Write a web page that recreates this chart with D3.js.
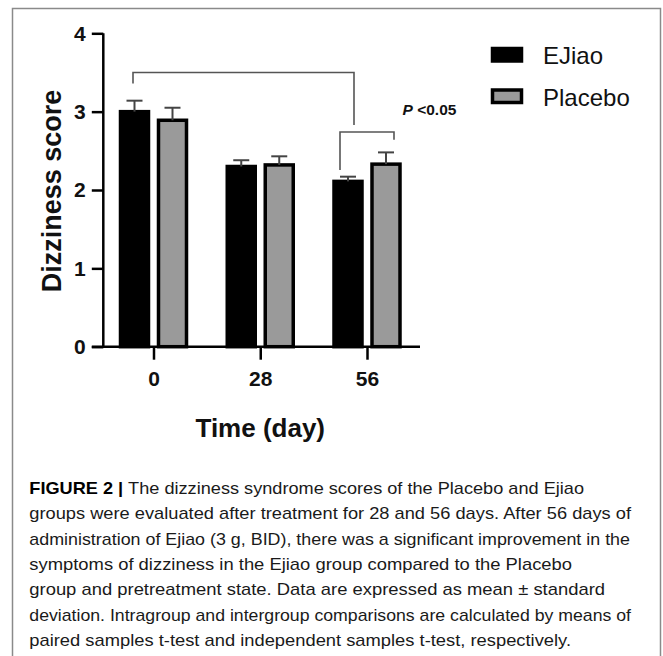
<!DOCTYPE html>
<html>
<head>
<meta charset="utf-8">
<script src="https://cdn.jsdelivr.net/npm/d3@7"></script>
<style>
  html, body { margin: 0; padding: 0; background: #fff; }
  svg { display: block; font-family: Arial, "Liberation Sans", sans-serif; }
</style>
</head>
<body>
<div class="chart"></div>
<script>
// data
const days = ["0", "28", "56"];
const series = ["EJiao", "Placebo"];
const ejiaoMean = [3.00, 2.30, 2.11];
const ejiaoSd = [0.14, 0.08, 0.06];
const placeboMean = [2.89, 2.32, 2.33];
const placeboSd = [0.16, 0.11, 0.15];
const yTicks = [0, 1, 2, 3, 4];
const captionLines = [
  "The dizziness syndrome scores of the Placebo and Ejiao",
  "groups were evaluated after treatment for 28 and 56 days. After 56 days of",
  "administration of Ejiao (3 g, BID), there was a significant improvement in the",
  "symptoms of dizziness in the Ejiao group compared to the Placebo",
  "group and pretreatment state. Data are expressed as mean \u00b1 standard",
  "deviation. Intragroup and intergroup comparisons are calculated by means of",
  "paired samples t-test and independent samples t-test, respectively."
];
const captionEnds = [584, 631, 630, 572, 605, 631, 571]; // right edge of each caption line

const width = 663;
const height = 656;

const colors = { EJiao: "#000", Placebo: "#9a9a9a" };

const svg = d3.select("div.chart")
    .append("svg")
    .attr("width", width)
    .attr("height", height)
    .attr("viewBox", [0, 0, width, height]);

// figure frame
svg.append("rect")
    .attr("x", 12.5).attr("y", 8.5)
    .attr("width", 648).attr("height", 700)
    .attr("fill", "none")
    .attr("stroke", "#8a8a8a")
    .attr("stroke-width", 1.5);

const xScale = d3.scalePoint()
    .domain(days)
    .range([153.5, 367]);

const xInner = d3.scaleBand()
    .domain(series)
    .range([-33, 33])
    .paddingInner(0.263);

const yScale = d3.scaleLinear()
    .domain([0, 4])
    .range([346.7, 33.3]);

const axisX0 = 103.3;

const rows = days.map((d, i) => ({
  day: d,
  values: [
    { key: "EJiao", mean: ejiaoMean[i], sd: ejiaoSd[i] },
    { key: "Placebo", mean: placeboMean[i], sd: placeboSd[i] }
  ]
}));

// bars
const groups = svg.append("g").attr("class", "bars")
    .selectAll("g")
    .data(rows)
    .join("g")
    .attr("transform", d => `translate(${xScale(d.day)},0)`);

groups.selectAll("rect")
    .data(d => d.values)
    .join("rect")
    .attr("x", d => xInner(d.key))
    .attr("width", xInner.bandwidth())
    .attr("y", d => yScale(d.mean))
    .attr("height", d => yScale(0) - yScale(d.mean))
    .attr("fill", d => colors[d.key])
    .attr("stroke", "#000")
    .attr("stroke-width", 3.5);

// error bars (upper only)
const err = groups.selectAll("g.err")
    .data(d => d.values)
    .join("g")
    .attr("class", "err")
    .attr("stroke", "#444")
    .attr("stroke-width", 2);

err.append("line")
    .attr("x1", d => xInner(d.key) + xInner.bandwidth() / 2)
    .attr("x2", d => xInner(d.key) + xInner.bandwidth() / 2)
    .attr("y1", d => yScale(d.mean))
    .attr("y2", d => yScale(d.mean + d.sd));

err.append("line")
    .attr("x1", d => xInner(d.key) + xInner.bandwidth() / 2 - 8)
    .attr("x2", d => xInner(d.key) + xInner.bandwidth() / 2 + 8)
    .attr("y1", d => yScale(d.mean + d.sd))
    .attr("y2", d => yScale(d.mean + d.sd));

// y axis
const yAxis = svg.append("g")
    .attr("transform", `translate(${axisX0},0)`)
    .call(d3.axisLeft(yScale).tickValues(yTicks).tickFormat(d3.format("d")).tickSize(11.5).tickPadding(6));

// x axis
const xAxis = svg.append("g")
    .attr("transform", `translate(0,${yScale(0)})`)
    .call(d3.axisBottom(xScale).tickSize(13).tickPadding(11));
xAxis.select(".domain").attr("d", `M${axisX0 - 11.5},0H420`);

svg.selectAll(".tick text")
    .attr("font-size", 21)
    .attr("font-weight", "bold")
    .attr("fill", "#111")
    .attr("font-family", "Arial, 'Liberation Sans', sans-serif");
svg.selectAll(".domain, .tick line")
    .attr("stroke", "#000")
    .attr("stroke-width", 2.5);
yAxis.select(".domain").attr("d", `M0,${yScale(0)}V${yScale(4)}`);

// axis titles
svg.append("text")
    .attr("transform", `translate(61,${(yScale(0) + yScale(4)) / 2 + 1}) rotate(-90)`)
    .attr("text-anchor", "middle")
    .attr("font-size", 27)
    .attr("font-weight", "bold")
    .attr("fill", "#111")
    .text("Dizziness score");

svg.append("text")
    .attr("x", xScale("28"))
    .attr("y", 437)
    .attr("text-anchor", "middle")
    .attr("font-size", 26)
    .attr("font-weight", "bold")
    .attr("fill", "#111")
    .text("Time (day)");

// significance brackets
const bx = (day, off) => xScale(day) + off;
const brackets = [
  { x1: bx("0", -20.5), x2: bx("56", -13), top: 3.5, left: 3.36, right: 2.83 },
  { x1: bx("56", -27), x2: bx("56", 27), top: 2.74, left: 2.255, right: 2.64 }
];
svg.append("g")
    .selectAll("path")
    .data(brackets)
    .join("path")
    .attr("d", d => `M${d.x1},${yScale(d.left)}V${yScale(d.top)}H${d.x2}V${yScale(d.right)}`)
    .attr("fill", "none")
    .attr("stroke", "#555")
    .attr("stroke-width", 1.6);

const ptext = svg.append("text")
    .attr("x", xScale("56") + 35.5)
    .attr("y", yScale(2.96))
    .attr("font-size", 15.5)
    .attr("font-weight", "bold")
    .attr("fill", "#111");
ptext.append("tspan").attr("font-style", "italic").text("P");
ptext.append("tspan").text(" <0.05");

// legend
const legend = svg.append("g")
    .selectAll("g")
    .data(series)
    .join("g")
    .attr("transform", (d, i) => `translate(492.5,${48.5 + i * 41.5})`);

legend.append("rect")
    .attr("width", 29)
    .attr("height", 12.5)
    .attr("fill", d => colors[d])
    .attr("stroke", "#000")
    .attr("stroke-width", 3.5);

legend.append("text")
    .attr("x", 50.5)
    .attr("y", 15.5)
    .attr("font-size", 24)
    .attr("fill", "#111")
    .text(d => d);

// caption
const caption = svg.append("g")
    .attr("font-family", "Arial, 'Liberation Sans', sans-serif")
    .attr("font-size", 17)
    .attr("fill", "#1a1a1a");

captionLines.forEach((line, i) => {
  const t = caption.append("text")
      .attr("x", 29.3)
      .attr("y", 494 + i * 25.3)
      .attr("textLength", captionEnds[i] - 29.3)
      .attr("lengthAdjust", "spacingAndGlyphs");
  if (i === 0) {
    t.append("tspan").attr("font-weight", "bold").attr("fill", "#000").text("FIGURE 2 | ");
  }
  t.append("tspan").text(line);
});
</script>
</body>
</html>
